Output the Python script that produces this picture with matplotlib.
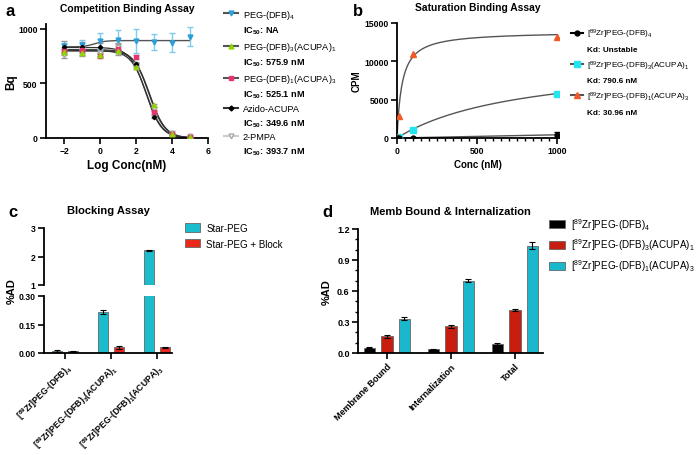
import numpy as np
import matplotlib
matplotlib.use("Agg")
from matplotlib import pyplot as plt
from matplotlib.lines import Line2D
from matplotlib.ticker import MultipleLocator

plt.rcParams['font.family'] = ['Liberation Sans', 'DejaVu Sans']
plt.rcParams['mathtext.fontset'] = 'custom'
plt.rcParams['mathtext.rm'] = 'Liberation Sans'
plt.rcParams['mathtext.default'] = 'regular'

# ---- panel a: competition binding ----
log_conc = [-2, -1, 0, 1, 2, 3, 4, 5]
peg4_y = [845, 855, 890, 900, 890, 880, 875, 930]
peg4_err = [30, 40, 70, 90, 110, 75, 90, 90]
d3a1_y = [790, 780, 760, 800, 650, 300, 40, 5]
d3a1_err = [25, 15, 20, 20, 15, 15, 10, 5]
d1a3_y = [800, 810, 750, 820, 740, 235, 40, 10]
d1a3_err = [20, 20, 20, 20, 20, 15, 10, 5]
azido_y = [830, 830, 830, 810, 680, 195, 30, 5]
azido_err = [60, 50, 40, 50, 20, 15, 10, 5]
pmpa_y = [760, 790, 780, 830, 670, 270, 50, 20]
pmpa_err = [30, 40, 30, 40, 20, 15, 15, 10]
ic50 = {'d3a1': 575.9, 'd1a3': 525.1, 'azido': 349.6, 'pmpa': 393.7}
tops = {'d3a1': 800, 'd1a3': 810, 'azido': 830, 'pmpa': 800}

# ---- panel b: saturation binding ----
conc = [1, 10, 100, 1000]
sat_peg4 = [0, 0, 0, 400]
sat_peg4_err = [0, 0, 0, 400]
sat_d3a1 = [30, 100, 1100, 5800]
sat_d1a3 = [150, 2900, 11000, 13200]
kd_d3a1, bmax_d3a1 = 790.6, 10390
kd_d1a3, bmax_d1a3 = 30.96, 13900
peg4_slope = 0.42

# ---- panel c: blocking ----
block_labels = ['[$^{89}$Zr]PEG-(DFB)$_4$', '[$^{89}$Zr]PEG-(DFB)$_3$(ACUPA)$_1$',
                '[$^{89}$Zr]PEG-(DFB)$_1$(ACUPA)$_3$']
star_peg = [0.012, 0.215, 2.22]
star_peg_err = [0.005, 0.01, 0.01]
star_block = [0.010, 0.030, 0.030]
star_block_err = [0.003, 0.008, 0.003]

# ---- panel d: membrane bound / internalization ----
memb_cats = ['Membrane Bound', 'Internalization', 'Total']
memb_peg4 = [0.05, 0.035, 0.09]
memb_peg4_err = [0.006, 0.004, 0.008]
memb_d3a1 = [0.16, 0.26, 0.42]
memb_d3a1_err = [0.01, 0.015, 0.01]
memb_d1a3 = [0.33, 0.70, 1.04]
memb_d1a3_err = [0.015, 0.015, 0.03]

W, H = 697, 456
fig = plt.figure(figsize=(W / 100, H / 100), dpi=100)


def box(l, t, r, b):
    return [l / W, 1 - b / H, (r - l) / W, (b - t) / H]


def prism(ax, ls=6.2):
    for s in ['top', 'right']:
        ax.spines[s].set_visible(False)
    for s in ['left', 'bottom']:
        ax.spines[s].set_linewidth(1.3)
    ax.tick_params(width=1.2, length=4, labelsize=ls, pad=2)
    ax.tick_params(which='minor', width=1.0, length=2.5)
    for t in ax.get_xticklabels() + ax.get_yticklabels():
        t.set_fontweight('bold')


tfs = dict(fontsize=8.5, fontweight='bold')

# panel a
axa = fig.add_axes(box(46, 25, 208, 139))
xs = np.linspace(-2, 5, 300)
blue = '#2b9fd8'
axa.errorbar(log_conc, peg4_y, yerr=peg4_err, fmt='v', color=blue, ecolor='#7fcbee',
             ms=3.5, capsize=2.5, elinewidth=1, zorder=3)
axa.plot(xs, 835 + 58 / (1 + 10 ** (-(xs + 0.3) * 1.5)), color='#555555', lw=1)
series = [('pmpa', pmpa_y, pmpa_err, 'v', 'white', '#aaaaaa'),
          ('azido', azido_y, azido_err, 'D', 'black', 'black'),
          ('d1a3', d1a3_y, d1a3_err, 's', '#e8336e', '#e8336e'),
          ('d3a1', d3a1_y, d3a1_err, '^', '#8fd400', '#8fd400')]
for key, y, e, m, fc, ec in series:
    axa.errorbar(log_conc, y, yerr=e, fmt=m, mfc=fc, mec=ec, ecolor='#999999',
                 ms=3.2 if m != 'D' else 2.2, capsize=2.5, elinewidth=1, zorder=3)
    li = np.log10(ic50[key])
    axa.plot(xs, tops[key] / (1 + 10 ** (xs - li)), color='#333333', lw=0.9, zorder=2)
axa.set_xlim(-3, 6)
axa.set_ylim(0, 1045)
axa.set_xticks([-2, 0, 2, 4, 6])
axa.set_yticks([0, 500, 1000])
prism(axa)
axa.set_xlabel('Log Conc(nM)', labelpad=3, **tfs)
axa.set_ylabel('Bq', labelpad=1, **tfs)
axa.set_title('Competition Binding Assay', fontsize=7.4, fontweight='bold', pad=9)

blank = Line2D([], [], color='none')
ha = [Line2D([], [], color='#555555', marker='v', mfc=blue, mec=blue, ms=3.5), blank,
      Line2D([], [], color='#555555', marker='^', mfc='#8fd400', mec='#8fd400', ms=3.5), blank,
      Line2D([], [], color='#555555', marker='s', mfc='#e8336e', mec='#e8336e', ms=3.5), blank,
      Line2D([], [], color='#333333', marker='D', mfc='black', mec='black', ms=2.5), blank,
      Line2D([], [], color='#cccccc', marker='v', mfc='white', mec='#aaaaaa', ms=3.5), blank]
la = ['PEG-(DFB)$_4$', 'IC$_{50}$: NA',
      'PEG-(DFB)$_3$(ACUPA)$_1$', 'IC$_{50}$: 575.9 nM',
      'PEG-(DFB)$_1$(ACUPA)$_3$', 'IC$_{50}$: 525.1 nM',
      'Azido-ACUPA', 'IC$_{50}$: 349.6 nM',
      '2-PMPA', 'IC$_{50}$: 393.7 nM']
lg = axa.legend(ha, la, loc='upper left', bbox_to_anchor=(219 / W, 1 - 4 / H),
                bbox_transform=fig.transFigure, frameon=False, fontsize=6.6,
                handlelength=1.6, handletextpad=0.5, labelspacing=0.42, borderpad=0)
for i, t in enumerate(lg.get_texts()):
    if i % 2 == 1:
        t.set_fontweight('bold')

# panel b
axb = fig.add_axes(box(397, 24, 559, 139))
xc = np.linspace(0, 1000, 400)
axb.plot(xc, bmax_d1a3 * xc / (kd_d1a3 + xc), color='#555555', lw=1)
axb.plot(xc, bmax_d3a1 * xc / (kd_d3a1 + xc), color='#555555', lw=1)
axb.plot(xc, peg4_slope * xc, color='#555555', lw=1)
axb.errorbar(conc, sat_peg4, yerr=sat_peg4_err, fmt='o', color='black', ms=3.5,
             capsize=2.5, elinewidth=1, zorder=3)
axb.plot(conc, sat_d3a1, 's', color='#22e5f0', ms=4, zorder=3)
axb.plot(conc, sat_d1a3, '^', color='#f05a28', ms=4, zorder=3)
axb.set_xlim(0, 1010)
axb.set_ylim(0, 15000)
axb.set_xticks([0, 500, 1000])
axb.xaxis.set_minor_locator(MultipleLocator(50))
axb.set_yticks([0, 5000, 10000, 15000])
prism(axb, 6.2)
axb.set_xlabel('Conc (nM)', labelpad=3, fontsize=7, fontweight='bold')
axb.set_ylabel('CPM', labelpad=2, fontsize=7, fontweight='bold')
axb.set_title('Saturation Binding Assay', fontsize=7.4, fontweight='bold', pad=9)
hb = [Line2D([], [], color='black', marker='o', ms=3.5), blank,
      Line2D([], [], color='#555555', marker='s', mfc='#22e5f0', mec='#22e5f0', ms=4), blank,
      Line2D([], [], color='#555555', marker='^', mfc='#f05a28', mec='#f05a28', ms=4), blank]
lb_ = ['[$^{89}$Zr]PEG-(DFB)$_4$', 'Kd: Unstable',
       '[$^{89}$Zr]PEG-(DFB)$_3$(ACUPA)$_1$', 'Kd: 790.6 nM',
       '[$^{89}$Zr]PEG-(DFB)$_1$(ACUPA)$_3$', 'Kd: 30.96 nM']
lg = axb.legend(hb, lb_, loc='upper left', bbox_to_anchor=(567 / W, 1 - 24 / H),
                bbox_transform=fig.transFigure, frameon=False, fontsize=5.9,
                handlelength=1.5, handletextpad=0.4, labelspacing=0.62, borderpad=0)
for i, t in enumerate(lg.get_texts()):
    if i % 2 == 1:
        t.set_fontweight('bold')

# panel c (broken axis)
cyan_c, red_c = '#1bbccc', '#e8291c'
axc_hi = fig.add_axes(box(44, 229, 172, 286))
axc_lo = fig.add_axes(box(44, 297, 172, 354))
xg = np.arange(3)
bw, off = 0.22, 0.17
for ax in (axc_hi, axc_lo):
    ax.bar(xg - off, star_peg, bw, yerr=star_peg_err, color=cyan_c, edgecolor='#666666',
           lw=0.6, capsize=2.5, error_kw=dict(elinewidth=0.8, capthick=0.8),
           label='Star-PEG')
    ax.bar(xg + off, star_block, bw, yerr=star_block_err, color=red_c, edgecolor='#666666',
           lw=0.6, capsize=2.5, error_kw=dict(elinewidth=0.8, capthick=0.8),
           label='Star-PEG + Block')
    ax.set_xlim(-0.46, 2.33)
axc_hi.set_ylim(1, 3)
axc_hi.set_yticks([1, 2, 3])
axc_lo.set_ylim(0, 0.30)
axc_lo.set_yticks([0, 0.15, 0.30])
axc_lo.set_yticklabels(['0.00', '0.15', '0.30'])
prism(axc_hi)
prism(axc_lo)
axc_hi.spines['bottom'].set_visible(False)
axc_hi.set_xticks([])
axc_lo.set_xticks(xg)
axc_lo.set_xticklabels(block_labels, rotation=45, ha='right', rotation_mode='anchor',
                       fontsize=6.3, fontweight='bold')
axc_hi.set_title('Blocking Assay', fontsize=8, fontweight='bold', pad=11)
fig.text(12 / W, 1 - 291 / H, '%AD', rotation=90, ha='center', va='center',
         fontsize=8, fontweight='bold')
axc_hi.legend(loc='upper left', bbox_to_anchor=(180 / W, 1 - 219 / H),
              bbox_transform=fig.transFigure, frameon=False, fontsize=7,
              handlelength=1.6, handleheight=0.9, handletextpad=0.6,
              labelspacing=0.6, borderpad=0)

# panel d
axd = fig.add_axes(box(358, 230, 543, 354))
bw2, off2 = 0.18, 0.273
kw = dict(edgecolor='#666666', lw=0.6, capsize=2.5, error_kw=dict(elinewidth=0.8, capthick=0.8))
axd.bar(xg - off2, memb_peg4, bw2, yerr=memb_peg4_err, color='black',
        label='[$^{89}$Zr]PEG-(DFB)$_4$', **kw)
axd.bar(xg, memb_d3a1, bw2, yerr=memb_d3a1_err, color='#c81e0f',
        label='[$^{89}$Zr]PEG-(DFB)$_3$(ACUPA)$_1$', **kw)
axd.bar(xg + off2, memb_d1a3, bw2, yerr=memb_d1a3_err, color='#19b8cc',
        label='[$^{89}$Zr]PEG-(DFB)$_1$(ACUPA)$_3$', **kw)
axd.set_xlim(-0.45, 2.44)
axd.set_ylim(0, 1.2)
axd.set_yticks([0, 0.3, 0.6, 0.9, 1.2])
axd.yaxis.set_minor_locator(MultipleLocator(0.1))
axd.set_xticks(xg)
axd.set_xticklabels(memb_cats, rotation=45, ha='right', rotation_mode='anchor')
prism(axd, 6.5)
axd.set_ylabel('%AD', labelpad=4, fontsize=8, fontweight='bold')
axd.set_title('Memb Bound & Internalization', fontsize=8, fontweight='bold', pad=11)
axd.legend(loc='upper left', bbox_to_anchor=(544 / W, 1 - 212 / H),
           bbox_transform=fig.transFigure, frameon=False, fontsize=7.1,
           handlelength=1.6, handleheight=0.9, handletextpad=0.6,
           labelspacing=0.5, borderpad=0)

# panel letters
for x, y, s in [(6, 12, 'a'), (353, 12, 'b'), (8, 213, 'c'), (322, 213, 'd')]:
    fig.text(x / W, 1 - y / H, s, fontsize=12, fontweight='bold', va='center')

fig.savefig('out.png', dpi=100)
